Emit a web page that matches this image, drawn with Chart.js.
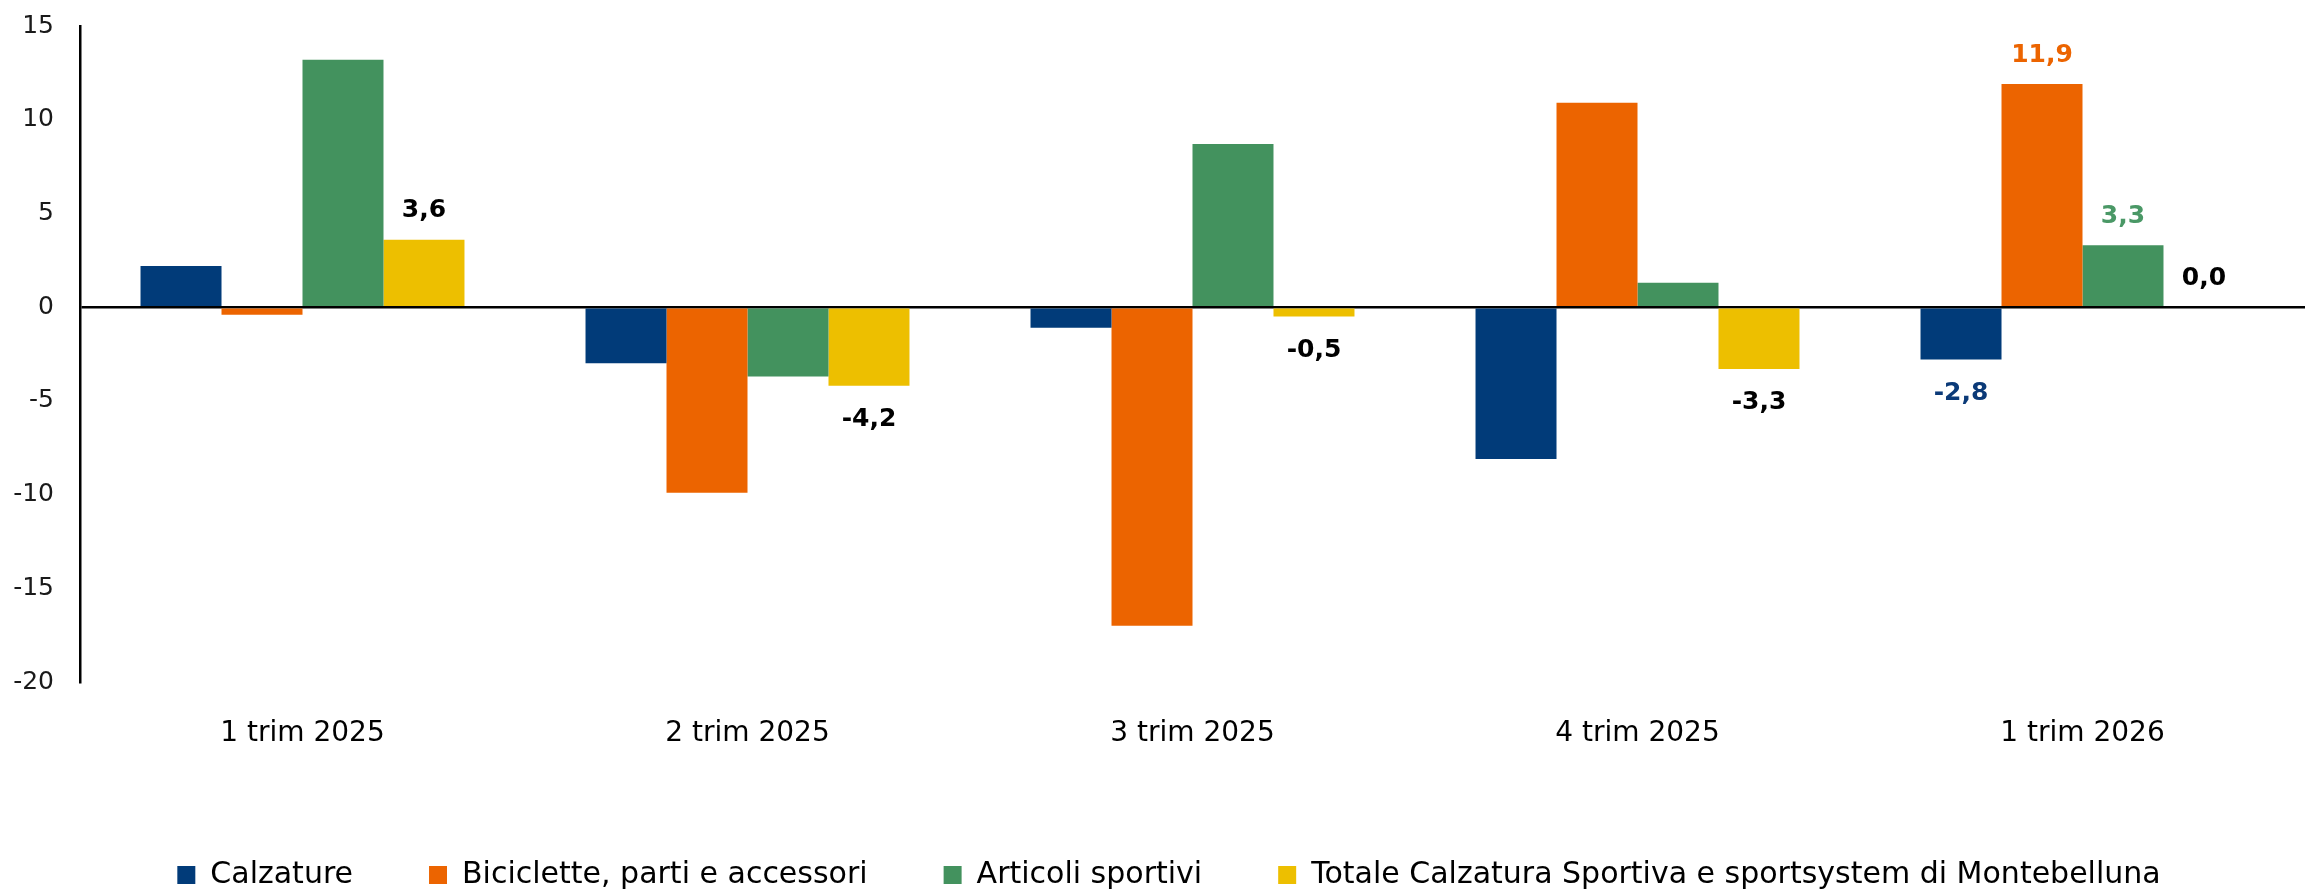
<!DOCTYPE html>
<html>
<head>
<meta charset="utf-8">
<script src="https://cdn.jsdelivr.net/npm/chart.js@4"></script>
<style>
  body { margin: 0; background: #fff; }
</style>
</head>
<body>
<canvas id="chart" width="2305" height="894"></canvas>
<script>
const categories = ['1 trim 2025', '2 trim 2025', '3 trim 2025', '4 trim 2025', '1 trim 2026'];
const seriesNames = [
    'Calzature',
    'Biciclette, parti e accessori',
    'Articoli sportivi',
    'Totale Calzatura Sportiva e sportsystem di Montebelluna'
];
const calzature = [2.2, -3.0, -1.1, -8.1, -2.8];
const biciclette = [-0.4, -9.9, -17.0, 10.9, 11.9];
const articoli = [13.2, -3.7, 8.7, 1.3, 3.3];
const totale = [3.6, -4.2, -0.5, -3.3, 0.0];
const yMin = -20, yMax = 15, yStep = 5;

const barColors = ['#013B79', '#EC6400', '#43925E', '#EDBF00'];
const labelColors = ['#0B3A78', '#EC6400', '#4A9866', '#000000'];
const FONT = '"DejaVu Sans", sans-serif';

// value labels: whole "Totale" series, plus every bar in the last quarter
const valueLabels = {
    id: 'valueLabels',
    afterDatasetsDraw(chart) {
        const ctx = chart.ctx;
        const lastIdx = categories.length - 1;
        ctx.save();
        ctx.font = 'bold 25px ' + FONT;
        ctx.textAlign = 'center';
        ctx.textBaseline = 'middle';
        chart.data.datasets.forEach((ds, di) => {
            const meta = chart.getDatasetMeta(di);
            meta.data.forEach((bar, i) => {
                if (di !== 3 && i !== lastIdx) return;
                const v = ds.data[i];
                const txt = v.toFixed(1).replace('.', ',');
                const y = v >= 0 ? bar.y - 29 : bar.y + 34;
                ctx.fillStyle = labelColors[di];
                ctx.fillText(txt, bar.x, y);
            });
        });
        ctx.restore();
    }
};

// legend spacing is wide horizontally but the box must stay short
const legendFit = {
    id: 'legendFit',
    beforeInit(chart) {
        const fit = chart.legend.fit;
        chart.legend.fit = function () {
            fit.call(this);
            this.height = 110;
        };
    },
    afterLayout(chart) {
        chart.legend.left += 33;
    }
};

new Chart(document.getElementById('chart'), {
    type: 'bar',
    data: {
        labels: categories,
        datasets: [calzature, biciclette, articoli, totale].map((d, i) => ({
            label: seriesNames[i],
            data: d,
            backgroundColor: barColors[i],
            borderWidth: 0,
            barPercentage: 1,
            categoryPercentage: 0.728
        }))
    },
    options: {
        responsive: false,
        animation: false,
        layout: { padding: { top: 26, right: 0, bottom: 0, left: 0 } },
        plugins: {
            legend: {
                position: 'bottom',
                labels: {
                    boxWidth: 18,
                    boxHeight: 18,
                    padding: 76,
                    color: '#000',
                    font: { family: FONT, size: 30 }
                }
            },
            tooltip: { enabled: false }
        },
        scales: {
            x: {
                grid: { display: false },
                border: { display: false },
                ticks: {
                    color: '#000',
                    padding: 27,
                    font: { family: FONT, size: 28 }
                },
                afterFit(scale) { scale.height = 102; }
            },
            y: {
                min: yMin,
                max: yMax,
                ticks: {
                    stepSize: yStep,
                    color: '#1a1a1a',
                    padding: 26,
                    font: { family: FONT, size: 25 }
                },
                grid: {
                    drawTicks: false,
                    lineWidth: 2.5,
                    color: ctx => ctx.tick && ctx.tick.value === 0 ? '#000' : 'rgba(0,0,0,0)'
                },
                border: { display: true, color: '#000', width: 2.5 },
                afterFit(scale) {
                    scale.width = 80;
                    scale.paddingTop = 0;
                    scale.paddingBottom = 0;
                }
            }
        }
    },
    plugins: [valueLabels, legendFit]
});
</script>
</body>
</html>
